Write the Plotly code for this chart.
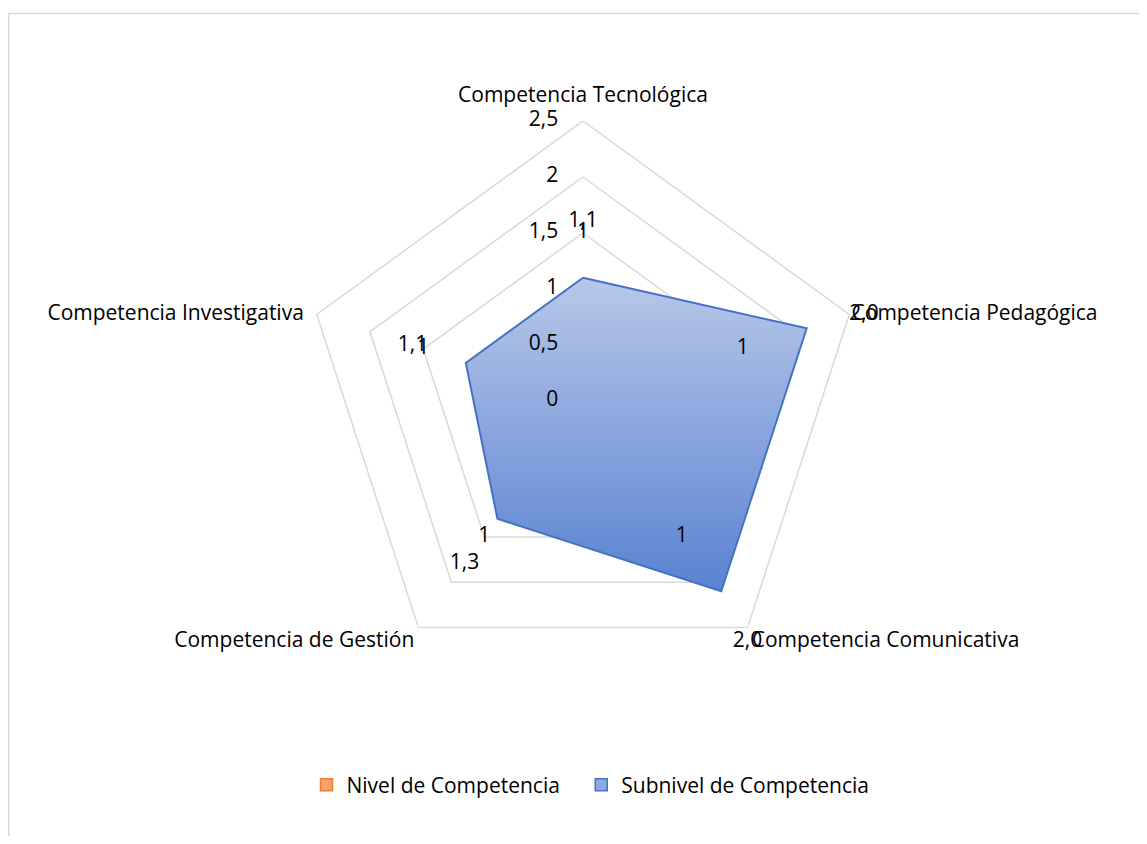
import math
import plotly.graph_objects as go

# ---------------- data ----------------
categories = ["Competencia Tecnológica", "Competencia Pedagógica",
              "Competencia Comunicativa", "Competencia de Gestión",
              "Competencia Investigativa"]
area_values = [1.1, 2.1, 2.1, 1.3, 1.1]          # filled radar area
nivel_competencia = [1.1, 2.0, 2.0, 1.3, 1.1]    # data labels of "Nivel de Competencia"
subnivel_competencia = [1, 1, 1, 1, 1]           # data labels of "Subnivel de Competencia"
radial_ticks = [0, 0.5, 1, 1.5, 2, 2.5]
radial_tick_labels = ["0", "0,5", "1", "1,5", "2", "2,5"]
series_names = ["Nivel de Competencia", "Subnivel de Competencia"]
r_max = 2.5
label_offset = 0.5   # Excel places the data labels half a unit outside the value

# ---------------- styling / layout ----------------
FONT = "Open Sans"
FS = 21
PAGE_OFF = 8                     # default body margin of the html page
W, H = 1147 - 2 * PAGE_OFF, 844 - 2 * PAGE_OFF
cx, cy, R = 583 - PAGE_OFF, 401 - PAGE_OFF, 280   # radar centre / outer radius (px)

n = len(categories)
angles = [2 * math.pi * i / n for i in range(n)]   # clockwise from the top


def to_xy(rs):
    xs = [r * math.sin(a) for r, a in zip(rs, angles)]
    ys = [r * math.cos(a) for r, a in zip(rs, angles)]
    return xs, ys


def closed(seq):
    return list(seq) + [seq[0]]


fig = go.Figure()

# grid rings (radial axis gridlines)
for t in radial_ticks[1:]:
    gx, gy = to_xy([t] * n)
    fig.add_trace(go.Scatter(x=closed(gx), y=closed(gy), mode="lines",
                             line=dict(color="#D9D9D9", width=1.5),
                             showlegend=False, hoverinfo="skip"))

# filled radar area
ax_, ay_ = to_xy(area_values)
poly = dict(x=closed(ax_), y=closed(ay_), mode="lines", fill="toself",
            line=dict(color="#4472C4", width=2), showlegend=False,
            name=series_names[1], hoverinfo="skip")
try:
    area_trace = go.Scatter(**poly, fillgradient=dict(
        type="vertical", colorscale=[[0, "#5A82D2"], [1, "#B7C8E8"]]))
except Exception:
    area_trace = go.Scatter(**poly, fillcolor="#8EA9DC")
fig.add_trace(area_trace)

txt_font = dict(family=FONT, size=FS, color="#000000")

# radial tick labels along the top axis
tx, ty = [0] * len(radial_ticks), list(radial_ticks)
fig.add_trace(go.Scatter(
    x=tx, y=ty, mode="markers+text", text=radial_tick_labels,
    textposition="middle left", marker=dict(size=38, color="rgba(0,0,0,0)"),
    textfont=txt_font, showlegend=False, hoverinfo="skip", cliponaxis=False))

# category labels at the outer ring
kx, ky = to_xy([r_max] * n)
fig.add_trace(go.Scatter(
    x=kx, y=ky, mode="markers+text", text=categories,
    textposition=["top center", "middle right", "bottom right", "bottom left", "middle left"],
    marker=dict(size=[20, 2, 5, 5, 19], color="rgba(0,0,0,0)"),
    textfont=txt_font, showlegend=False, hoverinfo="skip", cliponaxis=False))

# "Nivel de Competencia" data labels
nx, ny = to_xy([min(v + label_offset, r_max) for v in nivel_competencia])
fig.add_trace(go.Scatter(
    x=nx, y=ny, mode="markers+text",
    text=[("%.1f" % v).replace(".", ",") for v in nivel_competencia],
    textposition=["middle center", "middle right", "bottom center", "middle center", "middle center"],
    marker=dict(size=[0, 0, 4, 0, 0], color="rgba(0,0,0,0)"),
    textfont=txt_font, showlegend=False, hoverinfo="skip", cliponaxis=False))

# "Subnivel de Competencia" data labels
sx, sy = to_xy([v + label_offset for v in subnivel_competencia])
fig.add_trace(go.Scatter(
    x=sx, y=sy, mode="text", text=["%g" % v for v in subnivel_competencia],
    textposition="middle center", textfont=txt_font,
    showlegend=False, hoverinfo="skip", cliponaxis=False))

# legend entries
fig.add_trace(go.Scatter(
    x=[None], y=[None], mode="markers", name=series_names[0] + "\u00a0\u00a0\u00a0",
    marker=dict(symbol="square", size=12, color="#F4A26E",
                line=dict(color="#ED7D31", width=1.5))))
fig.add_trace(go.Scatter(
    x=[None], y=[None], mode="markers", name=series_names[1],
    marker=dict(symbol="square", size=12, color="#8EA9DC",
                line=dict(color="#4472C4", width=1.5))))

axis_common = dict(range=[-r_max, r_max], visible=False, fixedrange=True)
fig.update_layout(
    width=W, height=H,
    margin=dict(l=0, r=0, t=0, b=0),
    paper_bgcolor="white", plot_bgcolor="rgba(0,0,0,0)",
    font=txt_font,
    xaxis=dict(domain=[(cx - R) / W, (cx + R) / W], **axis_common),
    yaxis=dict(domain=[1 - (cy + R) / H, 1 - (cy - R) / H], **axis_common),
    legend=dict(orientation="h", x=582.5 / W, xanchor="center",
                y=1 - (785 - PAGE_OFF) / H, yanchor="middle",
                font=txt_font, itemwidth=30, tracegroupgap=0),
    shapes=[dict(type="rect", xref="paper", yref="paper",
                 x0=0.75 / W, x1=(1140.5 - PAGE_OFF) / W,
                 y0=-0.05, y1=1 - (13.5 - PAGE_OFF) / H,
                 line=dict(color="#D9D9D9", width=1.5), fillcolor="rgba(0,0,0,0)",
                 layer="below")],
)

fig.write_html("out.html")
